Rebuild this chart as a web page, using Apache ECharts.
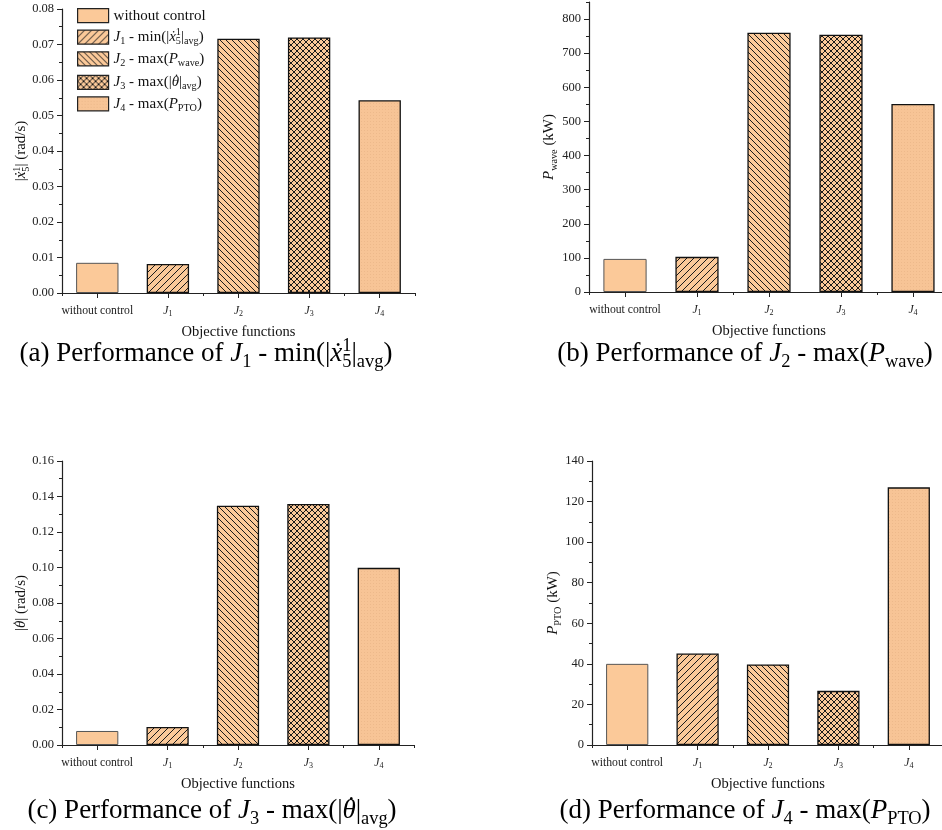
<!DOCTYPE html>
<html><head><meta charset="utf-8">
<script src="https://cdn.jsdelivr.net/npm/echarts@6/dist/echarts.min.js"></script>
<style>html,body{margin:0;padding:0;background:#fff}#c{width:942px;height:830px}</style>
</head><body><div id="c"></div>
<script>
// ---- data ----
const categories = ['without control', 'J1', 'J2', 'J3', 'J4'];
const valuesA = [0.0085, 0.0082, 0.0716, 0.0720, 0.0543];   // |x5^1| (rad/s)
const valuesB = [97, 103, 760, 754, 551];                   // P_wave (kW)
const valuesC = [0.0079, 0.0102, 0.1348, 0.1358, 0.0998];   // |theta dot| (rad/s)
const valuesD = [40.0, 45.1, 39.7, 26.7, 127.0];            // P_PTO (kW)
const yRangeA = [0, 0.08, 0.01];
const yRangeB = [0, 850, 100];
const yRangeC = [0, 0.16, 0.02];
const yRangeD = [0, 140, 20];
const yTicksB = [0, 100, 200, 300, 400, 500, 600, 700, 800];

const FF = 'Liberation Serif';
function rich(F, color) {
  const L = Math.round(F * 1.25);
  const sub = Math.round(F * 0.68 * 10) / 10;
  return {
    t: {fontFamily: FF, fontSize: F, color: color, lineHeight: L},
    i: {fontFamily: FF, fontSize: F, fontStyle: 'italic', color: color, lineHeight: L},
    o: {fontFamily: FF, fontSize: F, color: color, verticalAlign: 'top', lineHeight: Math.round(F),
        padding: [0, 0, 0, -0.34 * F]},
    s: {fontFamily: FF, fontSize: sub, color: color, verticalAlign: 'bottom'},
    p: {fontFamily: FF, fontSize: sub, color: color, verticalAlign: 'top', lineHeight: Math.round(F * 0.95)},
    q: {fontFamily: FF, fontSize: sub, color: color, verticalAlign: 'top', lineHeight: Math.round(F * 0.95),
        padding: [0, 0, 0, -0.5 * sub]}
  };
}

function hatch(size, dirs, bg, fg, lw) {
  const c = document.createElement('canvas');
  c.width = c.height = size;
  const ctx = c.getContext('2d');
  ctx.fillStyle = bg; ctx.fillRect(0, 0, size, size);
  ctx.strokeStyle = fg; ctx.lineWidth = lw;
  ctx.beginPath();
  for (const o of [-size, 0, size]) {
    if (dirs.indexOf('/') >= 0) { ctx.moveTo(o, size); ctx.lineTo(o + size, 0); }
    if (dirs.indexOf('\\') >= 0) { ctx.moveTo(o, 0); ctx.lineTo(o + size, size); }
  }
  ctx.stroke();
  return {image: c, repeat: 'repeat'};
}
function dots(bg, fg) {
  const c = document.createElement('canvas');
  c.width = c.height = 3;
  const ctx = c.getContext('2d');
  ctx.fillStyle = bg; ctx.fillRect(0, 0, 3, 3);
  ctx.fillStyle = fg; ctx.fillRect(1, 1, 1, 1);
  return {image: c, repeat: 'repeat'};
}
const BASE = '#FBC999';
const fills = [
  BASE,
  hatch(7, '/', BASE, '#1a1a1a', 1),
  hatch(6, '\\', BASE, '#1a1a1a', 1),
  hatch(6, '/\\', BASE, '#1a1a1a', 1),
  dots('#F7C496', '#EDB98B')
];

const XDOT = '{i|ẋ}{s|5}{q|1}';
const THDOT = '{i|θ}{o|˙}';
const legendText = {
  'without control': '{t|without control}',
  'J1': '{i|J}{s|1}{t| - min(|}' + XDOT + '{t||}{s|avg}{t|)}',
  'J2': '{i|J}{s|2}{t| - max(}{i|P}{s|wave}{t|)}',
  'J3': '{i|J}{s|3}{t| - max(|}' + THDOT + '{t||}{s|avg}{t|)}',
  'J4': '{i|J}{s|4}{t| - max(}{i|P}{s|PTO}{t|)}'
};
function xLabel(name) {
  if (name === 'without control') return '{t|without control}';
  return '{i|J}{s|' + name.slice(1) + '}';
}

const grids = [
  {left: 62, top: 9, width: 353, height: 284},
  {left: 589, top: 2, width: 360, height: 290},
  {left: 62, top: 461, width: 352, height: 284},
  {left: 592, top: 461, width: 352, height: 284}
].map(g => Object.assign({outerBoundsMode: 'none', containLabel: false}, g));

const AX = '#222';
const xAxes = [];
grids.forEach((g, gi) => {
  xAxes.push({
    type: 'category', gridIndex: gi, data: categories, position: 'bottom', boundaryGap: true,
    axisLine: {show: true, lineStyle: {color: AX, width: 1.2}},
    axisTick: {show: true, alignWithLabel: true, length: 5, lineStyle: {color: AX, width: 1}},
    axisLabel: {interval: 0, margin: 10, color: '#222', formatter: xLabel, rich: rich(11.7, '#222')},
    splitLine: {show: false},
    name: 'Objective functions', nameLocation: 'middle', nameGap: 32, nameMoveOverlap: false,
    nameTextStyle: {fontFamily: FF, fontSize: 14.5, color: '#111'}
  });
  xAxes.push({
    type: 'category', gridIndex: gi, data: categories, position: 'bottom', boundaryGap: true,
    axisLine: {show: false},
    axisTick: {show: true, alignWithLabel: false, length: 3, lineStyle: {color: AX, width: 1}},
    axisLabel: {show: false}, splitLine: {show: false}
  });
});

const ranges = [yRangeA, yRangeB, yRangeC, yRangeD];
const yNames = [
  '{t||}' + XDOT + '{t|| (rad/s)}',
  '{i|P}{s|wave}{t| (kW)}',
  '{t||}' + THDOT + '{t|| (rad/s)}',
  '{i|P}{s|PTO}{t| (kW)}'
];
const yGaps = [31, 30, 31, 29];
const yFmt = [v => v.toFixed(2), v => (v > 800 ? '' : String(v)), v => v.toFixed(2), v => String(v)];
const yAxes = [];
const yMainIdx = [];
grids.forEach((g, gi) => {
  const r = ranges[gi];
  const main = {
    type: 'value', gridIndex: gi, min: r[0], max: r[1], interval: r[2], position: 'left',
    axisLine: {show: true, lineStyle: {color: AX, width: 1.2}},
    axisTick: {show: true, length: 5, lineStyle: {color: AX, width: 1}},
    minorTick: {show: gi !== 1, splitNumber: 2, length: 3, lineStyle: {color: AX, width: 1}},
    axisLabel: {margin: 8, fontFamily: FF, fontSize: 12.5, color: '#222', formatter: yFmt[gi]},
    splitLine: {show: false}, minorSplitLine: {show: false},
    name: yNames[gi], nameLocation: 'middle', nameGap: yGaps[gi], nameRotate: 90, nameMoveOverlap: false,
    nameTextStyle: {fontFamily: FF, fontSize: 15, color: '#111', rich: rich(15, '#111')}
  };
  if (gi === 1) {
    main.axisTick.customValues = yTicksB;
    main.axisLabel.customValues = yTicksB;
  }
  yMainIdx.push(yAxes.length);
  yAxes.push(main);
  if (gi === 1) {
    yAxes.push({
      type: 'value', gridIndex: gi, min: r[0], max: r[1], interval: r[2] / 2, position: 'left',
      axisLine: {show: false},
      axisTick: {show: true, length: 3, lineStyle: {color: AX, width: 1}},
      axisLabel: {show: false}, splitLine: {show: false}
    });
  }
});

const allValues = [valuesA, valuesB, valuesC, valuesD];
const series = [];
grids.forEach((g, gi) => {
  categories.forEach((name, i) => {
    series.push({
      type: 'bar', name: name, xAxisIndex: gi * 2, yAxisIndex: yMainIdx[gi], stack: 'g' + gi,
      barWidth: '60%', silent: true,
      data: categories.map((c, j) => (j === i ? allValues[gi][i] : '-')),
      itemStyle: {color: fills[i], borderColor: i === 0 ? '#555' : '#111', borderWidth: i === 0 ? 1 : 1.3},
      emphasis: {disabled: true}
    });
  });
});

const captions = [
  {x: 206, y: 354, text: '{t|(a) Performance of }{i|J}{s|1}{t| - min(|}' + XDOT + '{t||}{s|avg}{t|)}'},
  {x: 745, y: 354, text: '{t|(b) Performance of }{i|J}{s|2}{t| - max(}{i|P}{s|wave}{t|)}'},
  {x: 212, y: 811, text: '{t|(c) Performance of }{i|J}{s|3}{t| - max(|}' + THDOT + '{t||}{s|avg}{t|)}'},
  {x: 745, y: 811, text: '{t|(d) Performance of }{i|J}{s|4}{t| - max(}{i|P}{s|PTO}{t|)}'}
];

const chart = echarts.init(document.getElementById('c'), null, {renderer: 'canvas'});
chart.setOption({
  animation: false,
  backgroundColor: '#fff',
  grid: grids,
  xAxis: xAxes,
  yAxis: yAxes,
  legend: {
    data: categories, left: 72, top: 3, orient: 'vertical',
    itemWidth: 31, itemHeight: 14, itemGap: 4.5, icon: 'rect', selectedMode: false,
    itemStyle: {borderColor: '#222', borderWidth: 1.2},
    formatter: n => legendText[n],
    textStyle: {fontFamily: FF, fontSize: 15, color: '#111', rich: rich(15, '#111')}
  },
  graphic: captions.map(c => ({
    type: 'text', x: c.x, y: c.y, silent: true,
    style: {text: c.text, align: 'center', verticalAlign: 'middle', fill: '#000',
            font: '27px "Liberation Serif"', rich: rich(27, '#000')}
  })),
  series: series
});
</script>
</body></html>
